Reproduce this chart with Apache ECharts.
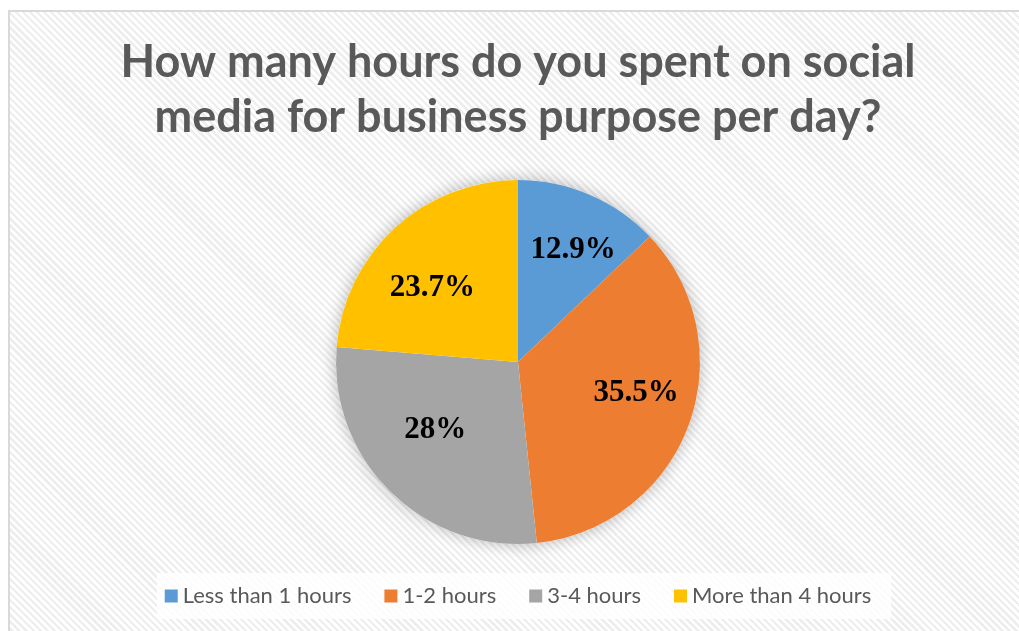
<!DOCTYPE html>
<html>
<head>
<meta charset="utf-8">
<script src="https://cdn.jsdelivr.net/npm/echarts@6/dist/echarts.min.js"></script>
<style>
  html, body { margin: 0; padding: 0; background: #ffffff; width: 1019px; height: 631px; overflow: hidden; }
  #frame {
    position: absolute; left: 8px; top: 10px; width: 1030px; height: 640px;
    border: 2px solid #d9d9d9; box-sizing: border-box;
    background: repeating-linear-gradient(45deg, #ffffff 0px, #ffffff 2.6px, #eeeeee 2.6px, #eeeeee 5px);
  }
  #chart { position: absolute; left: 8px; top: 10px; width: 1020px; height: 640px; }
</style>
</head>
<body>
<div id="frame"></div>
<div id="chart"></div>
<script>
// Survey: daily hours spent on social media for business
const categories = ['Less than 1 hours', '1-2 hours', '3-4 hours', 'More than 4 hours'];
const shares = [12.9, 35.5, 28, 23.7];
const labels = ['12.9%', '35.5%', '28%', '23.7%'];
const colors = ['#5b9bd5', '#ed7d31', '#a5a5a5', '#ffc000'];

// extra label shift (px) from the default inside position
const labelShift = [[18, -26], [30, -2], [-17, 1], [-22, -5]];

const chart = echarts.init(document.getElementById('chart'), null, { renderer: 'canvas' });

const radius = 182;

chart.setOption({
  animation: false,
  backgroundColor: 'transparent',
  title: {
    text: 'How many hours do you spent on social\nmedia for business purpose per day?',
    left: 'center',
    top: 20,
    textStyle: {
      fontFamily: 'Lato',
      fontWeight: 'bold',
      fontSize: 45,
      lineHeight: 55,
      color: '#595959'
    }
  },
  legend: {
    data: categories,
    left: 'center',
    top: 563,
    icon: 'rect',
    itemWidth: 13,
    itemHeight: 13,
    itemGap: 33,
    padding: [12, 20, 12, 8],
    backgroundColor: 'rgba(255,255,255,0.8)',
    textStyle: { fontFamily: 'Lato', fontSize: 22, color: '#595959' }
  },
  series: [
    {
      // soft halo behind the pie
      type: 'pie',
      silent: true,
      z: 1,
      center: ['50%', 352],
      radius: [0, radius],
      label: { show: false },
      labelLine: { show: false },
      itemStyle: {
        color: '#ffffff',
        shadowBlur: 16,
        shadowColor: 'rgba(0,0,0,0.28)'
      },
      data: [{ name: '_halo', value: 1 }]
    },
    {
      type: 'pie',
      z: 2,
      center: ['50%', 352],
      radius: [0, radius],
      startAngle: 90,
      clockwise: true,
      data: categories.map((c, i) => ({
        name: c,
        value: shares[i],
        itemStyle: { color: colors[i] }
      })),
      label: {
        show: true,
        position: 'inside',
        formatter: p => labels[p.dataIndex],
        fontFamily: 'Liberation Serif',
        fontWeight: 'bold',
        fontSize: 31,
        color: '#000000'
      },
      labelLine: { show: false },
      labelLayout: p => ({ dx: labelShift[p.dataIndex][0], dy: labelShift[p.dataIndex][1] }),
      emphasis: { disabled: true }
    }
  ]
});
</script>
</body>
</html>
